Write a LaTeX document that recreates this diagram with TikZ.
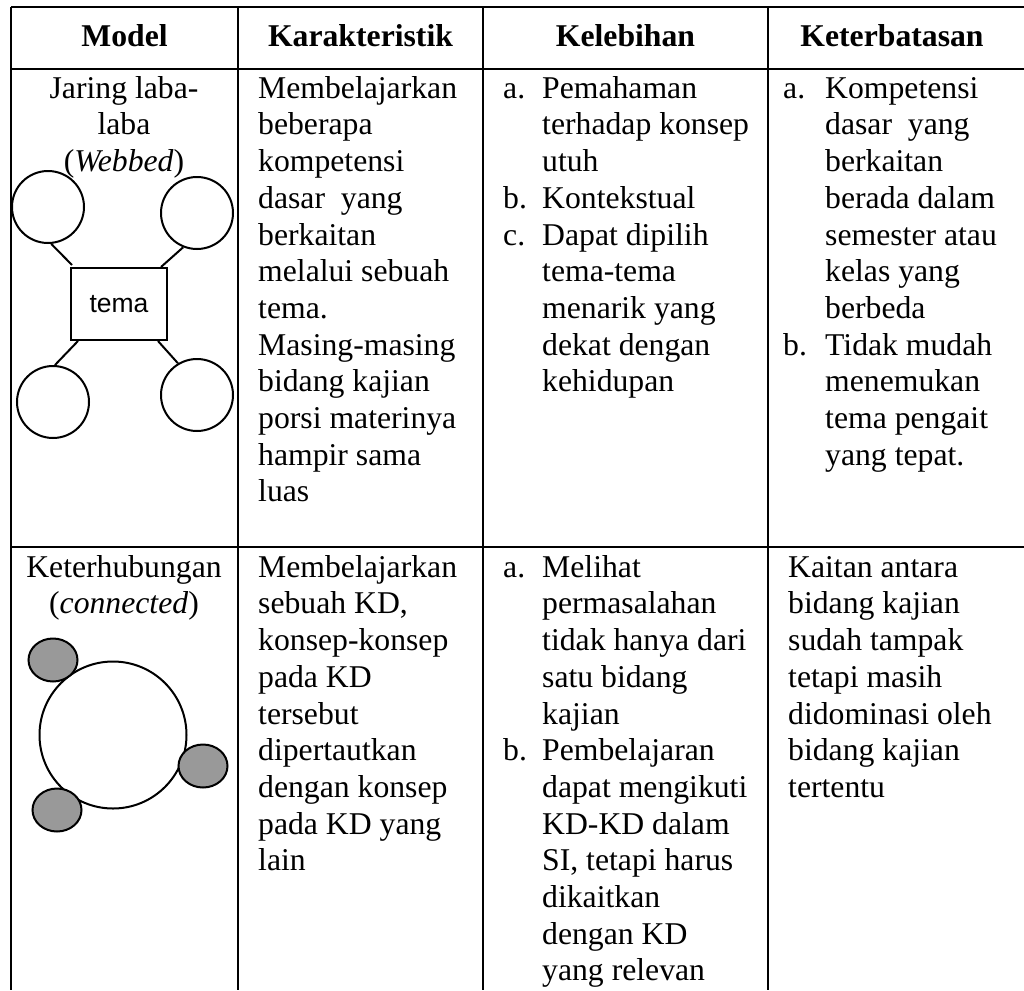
\documentclass[tikz,border=0pt]{standalone}
\usepackage{fontspec}
\setmainfont{Liberation Serif}
\newfontfamily\arialf{Liberation Sans}
\usetikzlibrary{shapes.geometric,calc}
\definecolor{shade}{RGB}{153,153,153}
\tikzset{
  grid/.style={line width=2.5pt},
  body/.style={font=\fontsize{31.7}{36.7}\selectfont, inner sep=0pt, anchor=north west, yshift=25.69pt, align=left},
  mid/.style={font=\fontsize{31.7}{36.7}\selectfont, inner sep=0pt, anchor=north, yshift=25.69pt, align=center},
  hdr/.style={font=\fontsize{31.7}{36.7}\selectfont\bfseries, inner sep=0pt, anchor=base},
  ring/.style={circle, draw, line width=2pt, minimum size=72pt, inner sep=0pt},
  dot/.style={ellipse, draw, line width=2pt, fill=shade, minimum width=49pt, minimum height=43pt, inner sep=0pt},
  link/.style={line width=2pt}
}
\begin{document}
\begin{tikzpicture}[x=1pt,y=-1pt]
\useasboundingbox (0,0) rectangle (1024,990);
% grid
\coordinate (tl) at (11,7);
\coordinate (tr) at (1024,7);
\coordinate (hl) at (11,69);
\coordinate (hr) at (1024,69);
\coordinate (rl) at (11,547);
\coordinate (rr) at (1024,547);
\draw[grid] (tl) -- (tr);
\draw[grid] (hl) -- (hr);
\draw[grid] (rl) -- (rr);
\foreach \xx/\nm in {11/va,238/vb,483/vc,768/vd}{
  \coordinate (\nm t) at (\xx,7);
  \coordinate (\nm b) at (\xx,990);
  \draw[grid] (\nm t) -- (\nm b);
}
% header
\node[hdr] (h1) at (124.5,47) {Model};
\node[hdr] (h2) at (360.5,47) {Karakteristik};
\node[hdr] (h3) at (625.5,47) {Kelebihan};
\node[hdr] (h4) at (892,47) {Keterbatasan};
% row 1
\node[mid] (m1) at (124,98) {\strut Jaring laba-\\laba\\(\textit{Webbed})};
\node[body] (k1) at (258,98) {\strut Membelajarkan\\beberapa\\kompetensi\\dasar\ \ yang\\berkaitan\\melalui sebuah\\tema.\\Masing-masing\\bidang kajian\\porsi materinya\\hampir sama\\luas};
\node[body] (l1a) at (503,98) {\strut a.};
\node[body] (l1at) at (542,98) {\strut Pemahaman\\terhadap konsep\\utuh};
\node[body] (l1b) at (503,208.1) {\strut b.};
\node[body] (l1bt) at (542,208.1) {\strut Kontekstual};
\node[body] (l1c) at (503,244.8) {\strut c.};
\node[body] (l1ct) at (542,244.8) {\strut Dapat dipilih\\tema-tema\\menarik yang\\dekat dengan\\kehidupan};
\node[body] (b1a) at (783,98) {\strut a.};
\node[body] (b1at) at (825,98) {\strut Kompetensi\\dasar\ \ yang\\berkaitan\\berada dalam\\semester atau\\kelas yang\\berbeda};
\node[body] (b1b) at (783,354.9) {\strut b.};
\node[body] (b1bt) at (825,354.9) {\strut Tidak mudah\\menemukan\\tema pengait\\yang tepat.};
% webbed figure
\node[ring] (c1) at (48,207) {};
\node[ring] (c2) at (197,213) {};
\node[ring] (c3) at (53,402) {};
\node[ring] (c4) at (197,395) {};
\node[draw, line width=2pt, minimum width=96pt, minimum height=72pt, inner sep=0pt, font=\arialf\fontsize{26.5}{30}\selectfont] (tm) at (119,304) {tema};
\draw[link] (c1.-85) -- ($(tm.north west)+(2,-2)$);
\draw[link] (c2.248) -- ($(tm.north east)+(-7,0)$);
\draw[link] (c3.87) -- ($(tm.south west)+(8,0)$);
\draw[link] (c4.121) -- ($(tm.south east)+(-10,0)$);
% row 2
\node[mid] (m2) at (124,577) {\strut Keterhubungan\\(\textit{connected})};
\node[body] (k2) at (258,577) {\strut Membelajarkan\\sebuah KD,\\konsep-konsep\\pada KD\\tersebut\\dipertautkan\\dengan konsep\\pada KD yang\\lain};
\node[body] (l2a) at (503,577) {\strut a.};
\node[body] (l2at) at (542,577) {\strut Melihat\\permasalahan\\tidak hanya dari\\satu bidang\\kajian};
\node[body] (l2b) at (503,760.5) {\strut b.};
\node[body] (l2bt) at (542,760.5) {\strut Pembelajaran\\dapat mengikuti\\KD-KD dalam\\SI, tetapi harus\\dikaitkan\\dengan KD\\yang relevan};
\node[body] (b2) at (788,577) {\strut Kaitan antara\\bidang kajian\\sudah tampak\\tetapi masih\\didominasi oleh\\bidang kajian\\tertentu};
% connected figure
\node[circle, draw, fill=white, line width=2pt, minimum size=147pt, inner sep=0pt] (big) at (113,735) {};
\node[dot] (g1) at (53,660) {};
\node[dot] (g2) at (203,766) {};
\node[dot] (g3) at (57,810) {};
\end{tikzpicture}
\end{document}
